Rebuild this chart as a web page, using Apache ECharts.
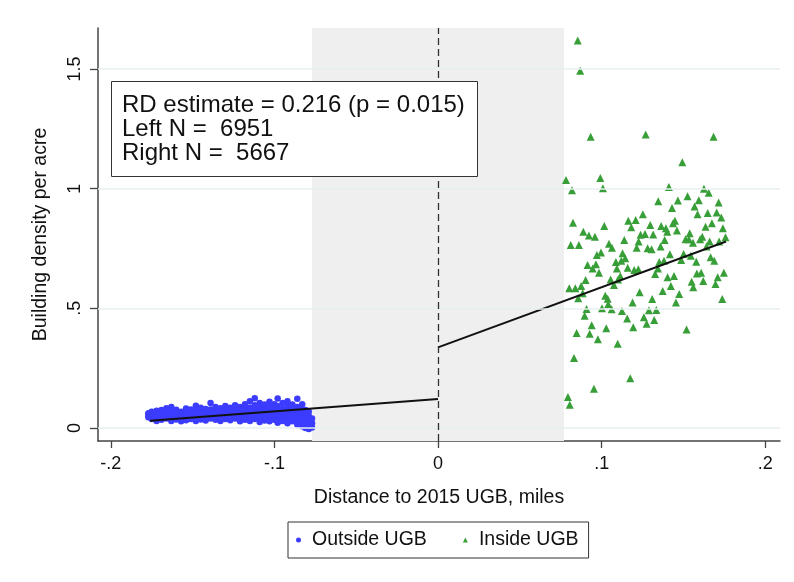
<!DOCTYPE html>
<html>
<head>
<meta charset="utf-8">
<script src="https://cdn.jsdelivr.net/npm/echarts@6/dist/echarts.min.js"></script>
<style>html,body{margin:0;padding:0;background:#fff}#c{width:794px;height:582px}</style>
</head>
<body>
<div id="c"></div>
<script>
// ---- data ----
const xTicks = [-0.2, -0.1, 0, 0.1, 0.2];
const xTickLabels = ['-.2', '-.1', '0', '.1', '.2'];
const yTicks = [0, 0.5, 1, 1.5];
const yTickLabels = ['0', '.5', '1', '1.5'];
const bandwidth = [-0.077, 0.077];
const cutoff = 0;
const annotationLines = ['RD estimate = 0.216 (p = 0.015)', 'Left N =  6951', 'Right N =  5667'];
const leftFit = [[-0.176, 0.031], [0, 0.121]];
const rightFit = [[0, 0.337], [0.176, 0.779]];

// binned means outside UGB (x, y)
const outsideX = [
 -0.177,-0.177,-0.177,
 -0.175,-0.175,-0.175,
 -0.172,-0.172,-0.172,-0.172,
 -0.169,-0.169,-0.169,-0.169,
 -0.166,-0.166,-0.166,-0.166,
 -0.163,-0.163,-0.163,-0.163,-0.163,
 -0.160,-0.160,-0.160,-0.160,
 -0.157,-0.157,-0.157,-0.157,
 -0.154,-0.154,-0.154,-0.154,-0.154,
 -0.151,-0.151,-0.151,-0.151,
 -0.148,-0.148,-0.148,-0.148,-0.148,
 -0.145,-0.145,-0.145,-0.145,-0.145,
 -0.142,-0.142,-0.142,-0.142,-0.142,
 -0.139,-0.139,-0.139,-0.139,-0.139,
 -0.136,-0.136,-0.136,-0.136,-0.136,
 -0.133,-0.133,-0.133,-0.133,-0.133,
 -0.130,-0.130,-0.130,-0.130,-0.130,
 -0.127,-0.127,-0.127,-0.127,-0.127,
 -0.124,-0.124,-0.124,-0.124,-0.124,
 -0.121,-0.121,-0.121,-0.121,-0.121,
 -0.118,-0.118,-0.118,-0.118,-0.118,
 -0.115,-0.115,-0.115,-0.115,-0.115,-0.115,
 -0.112,-0.112,-0.112,-0.112,-0.112,-0.112,
 -0.109,-0.109,-0.109,-0.109,-0.109,-0.109,
 -0.106,-0.106,-0.106,-0.106,-0.106,
 -0.103,-0.103,-0.103,-0.103,-0.103,-0.103,
 -0.100,-0.100,-0.100,-0.100,-0.100,
 -0.098,-0.098,-0.098,-0.098,-0.098,-0.098,
 -0.095,-0.095,-0.095,-0.095,-0.095,
 -0.092,-0.092,-0.092,-0.092,-0.092,-0.092,
 -0.089,-0.089,-0.089,-0.089,-0.089,
 -0.086,-0.086,-0.086,-0.086,-0.086,-0.086,
 -0.083,-0.083,-0.083,-0.083,-0.083,-0.083,
 -0.081,-0.081,-0.081,-0.081,-0.081,
 -0.079,-0.079,-0.079,-0.079,-0.079,
 -0.077,-0.077,-0.077
];
const outsideY = [
 0.045,0.055,0.062,
 0.038,0.050,0.068,
 0.042,0.057,0.072,0.030,
 0.035,0.048,0.060,0.075,
 0.040,0.052,0.066,0.083,
 0.030,0.045,0.058,0.070,0.088,
 0.036,0.050,0.063,0.077,
 0.028,0.042,0.055,0.068,
 0.033,0.047,0.060,0.072,0.082,
 0.038,0.052,0.065,0.078,
 0.030,0.044,0.057,0.070,0.093,
 0.036,0.050,0.062,0.075,0.085,
 0.032,0.046,0.058,0.068,0.080,
 0.040,0.054,0.066,0.078,0.105,
 0.035,0.048,0.060,0.072,0.088,
 0.030,0.043,0.057,0.070,0.083,
 0.038,0.052,0.064,0.076,0.092,
 0.033,0.047,0.060,0.073,0.085,
 0.040,0.055,0.068,0.080,0.095,
 0.028,0.045,0.058,0.070,0.088,
 0.035,0.050,0.063,0.078,0.100,
 0.030,0.042,0.056,0.070,0.085,0.112,
 0.038,0.052,0.066,0.080,0.095,0.125,
 0.025,0.045,0.060,0.073,0.090,0.105,
 0.032,0.050,0.065,0.078,0.098,
 0.028,0.042,0.058,0.072,0.088,0.110,
 0.035,0.050,0.066,0.082,0.100,
 0.022,0.040,0.058,0.075,0.092,0.124,
 0.030,0.048,0.065,0.080,0.105,
 0.020,0.038,0.055,0.072,0.090,0.112,
 0.028,0.045,0.062,0.078,0.098,
 0.015,0.035,0.052,0.070,0.088,0.122,
 0.008,0.025,0.045,0.062,0.080,0.100,
 0.000,0.018,0.038,0.055,0.075,
 -0.004,0.010,0.030,0.050,0.068,
 0.002,0.020,0.040
];

// binned means inside UGB (x, y)
const insideX = [
 0.0854,0.0869,0.0933,0.1269,0.1684,0.1493,0.0782,0.0992,0.0819,0.1008,
 0.1411,0.1625,0.1654,0.1346,0.1466,0.1525,0.1594,0.1715,0.1430,0.1568,
 0.1252,0.1586,0.1648,0.1703,0.1731,0.0825,0.1016,0.1163,0.1208,0.1181,
 0.1297,0.1364,0.1393,0.1401,0.1436,0.1448,0.1460,0.1635,0.1674,0.1741,
 0.0888,0.0922,0.0959,0.1238,0.1265,0.1315,0.1538,0.1615,0.1757,0.1138,
 0.1226,0.1385,0.1513,0.1533,0.1558,0.1602,0.1660,0.1718,0.0811,0.0861,
 0.1045,0.1063,0.1214,0.1281,0.1305,0.1360,0.1641,0.0996,0.0971,0.1128,
 0.1144,0.1417,0.1501,0.1545,0.1666,0.1087,0.1120,0.1352,0.1381,0.1486,
 0.1578,0.1688,0.0914,0.0965,0.0945,0.1093,0.1159,0.1199,0.1224,0.1344,
 0.0984,0.1327,0.1582,0.1608,0.1747,0.1114,0.1403,0.1442,0.1709,0.0902,
 0.1055,0.1100,0.1550,0.1621,0.1075,0.0875,0.0802,0.0839,0.1423,0.1560,
 0.1696,0.1232,0.1373,0.0884,0.1474,0.1022,0.0857,0.1037,0.1309,0.1737,
 0.1189,0.1454,0.1040,0.0908,0.1002,0.1061,0.1124,0.1289,0.1334,0.0896,
 0.1156,0.1258,0.1321,0.0939,0.1275,0.1028,0.1193,0.1519,0.0847,0.0927,
 0.0977,0.1098,0.0831,0.1175,0.0953,0.0794,0.0805
];
const insideY = [
 1.619,1.492,1.217,1.226,1.217,1.110,1.036,1.045,0.993,1.002,
 1.007,1.000,0.983,0.947,0.950,0.968,0.952,0.942,0.919,0.925,
 0.893,0.893,0.898,0.900,0.879,0.858,0.844,0.866,0.869,0.839,
 0.848,0.844,0.835,0.820,0.855,0.866,0.825,0.841,0.855,0.835,
 0.820,0.804,0.799,0.807,0.811,0.809,0.814,0.799,0.797,0.786,
 0.779,0.786,0.789,0.789,0.774,0.789,0.779,0.779,0.765,0.765,
 0.770,0.753,0.753,0.751,0.747,0.758,0.758,0.733,0.723,0.730,
 0.709,0.726,0.727,0.720,0.713,0.694,0.699,0.694,0.699,0.702,
 0.695,0.699,0.681,0.684,0.667,0.667,0.670,0.660,0.663,0.667,
 0.649,0.644,0.646,0.649,0.649,0.635,0.630,0.635,0.630,0.618,
 0.621,0.621,0.611,0.614,0.598,0.593,0.584,0.584,0.593,0.588,
 0.602,0.567,0.573,0.563,0.560,0.553,0.542,0.540,0.539,0.539,
 0.525,0.525,0.517,0.497,0.500,0.496,0.489,0.492,0.493,0.469,
 0.458,0.463,0.451,0.429,0.436,0.417,0.421,0.412,0.397,0.394,
 0.371,0.352,0.293,0.208,0.164,0.130,0.097
];

const outsidePts = outsideX.map((x, i) => [x, outsideY[i]]);
const insidePts = insideX.map((x, i) => [x, insideY[i]]);

const FONT = '"Liberation Sans", Arial, sans-serif';
const chart = echarts.init(document.getElementById('c'), null, {renderer: 'canvas'});
chart.setOption({
  animation: false,
  backgroundColor: '#ffffff',
  textStyle: {fontFamily: FONT},
  title: {
    text: annotationLines.join('\n'),
    left: 111, top: 81,
    padding: [12, 13, 12, 11],
    borderColor: '#333', borderWidth: 1,
    backgroundColor: '#fff',
    textStyle: {fontFamily: FONT, fontSize: 24, fontWeight: 'normal', color: '#111', lineHeight: 24}
  },
  legend: {
    data: ['Outside UGB', 'Inside UGB'],
    left: 288, top: 522,
    padding: [8, 10, 8, 8],
    itemGap: 36, itemWidth: 5, itemHeight: 5,
    borderColor: '#333', borderWidth: 1,
    textStyle: {fontFamily: FONT, fontSize: 19.5, color: '#111', padding: [0, 0, 0, 6]}
  },
  grid: {left: 98, right: 14, top: 28, bottom: 141, containLabel: false},
  xAxis: {
    type: 'value', min: -0.2078, max: 0.209,
    name: 'Distance to 2015 UGB, miles', nameLocation: 'middle', nameGap: 47,
    nameTextStyle: {fontFamily: FONT, fontSize: 19.5, color: '#111'},
    axisLine: {show: true, onZero: false, lineStyle: {color: '#444', width: 1.5}},
    axisTick: {show: true, length: 7, lineStyle: {color: '#444', width: 1.3}, customValues: xTicks},
    axisLabel: {customValues: xTicks, margin: 14, fontFamily: FONT, fontSize: 18, color: '#111',
      formatter: v => { const i = xTicks.findIndex(t => Math.abs(t - v) < 1e-9); return i >= 0 ? xTickLabels[i] : ''; }},
    splitLine: {show: false}
  },
  yAxis: {
    type: 'value', min: -0.054, max: 1.671,
    name: 'Building density per acre', nameLocation: 'middle', nameGap: 47,
    nameTextStyle: {fontFamily: FONT, fontSize: 19.5, color: '#111'},
    axisLine: {show: true, onZero: false, lineStyle: {color: '#444', width: 1.5}},
    axisTick: {show: true, length: 8, lineStyle: {color: '#444', width: 1.3}, customValues: yTicks},
    axisLabel: {customValues: yTicks, rotate: 90, margin: 14, fontFamily: FONT, fontSize: 18, color: '#111',
      formatter: v => { const i = yTicks.findIndex(t => Math.abs(t - v) < 1e-9); return i >= 0 ? yTickLabels[i] : ''; }},
    splitLine: {show: false}
  },
  series: [
    {
      name: 'bands', type: 'line', data: [], z: 1, silent: true,
      markArea: {silent: true, itemStyle: {color: '#efefef'}, data: [[{xAxis: bandwidth[0]}, {xAxis: bandwidth[1]}]]},
      markLine: {silent: true, symbol: ['none', 'none'], label: {show: false},
        lineStyle: {color: '#e6eff0', width: 1.6, type: 'solid'},
        data: yTicks.map(v => ({yAxis: v}))}
    },
    {
      name: 'cut', type: 'line', data: [], z: 2, silent: true,
      markLine: {silent: true, symbol: ['none', 'none'], label: {show: false},
        lineStyle: {color: '#333', width: 1.3, type: [7, 4]},
        data: [{xAxis: cutoff}]}
    },
    {
      name: 'Outside UGB', type: 'scatter', data: outsidePts, z: 3,
      symbol: 'circle', symbolSize: 6.5, itemStyle: {color: '#3c3cff', opacity: 1}
    },
    {
      name: 'Inside UGB', type: 'scatter', data: insidePts, z: 3,
      symbol: 'triangle', symbolSize: 8, itemStyle: {color: '#389e38', opacity: 1}
    },
    {
      name: 'fitL', type: 'line', data: leftFit, z: 4, symbol: 'none',
      lineStyle: {color: '#111', width: 2}
    },
    {
      name: 'fitR', type: 'line', data: rightFit, z: 4, symbol: 'none',
      lineStyle: {color: '#111', width: 2}
    }
  ]
});
</script>
</body>
</html>
